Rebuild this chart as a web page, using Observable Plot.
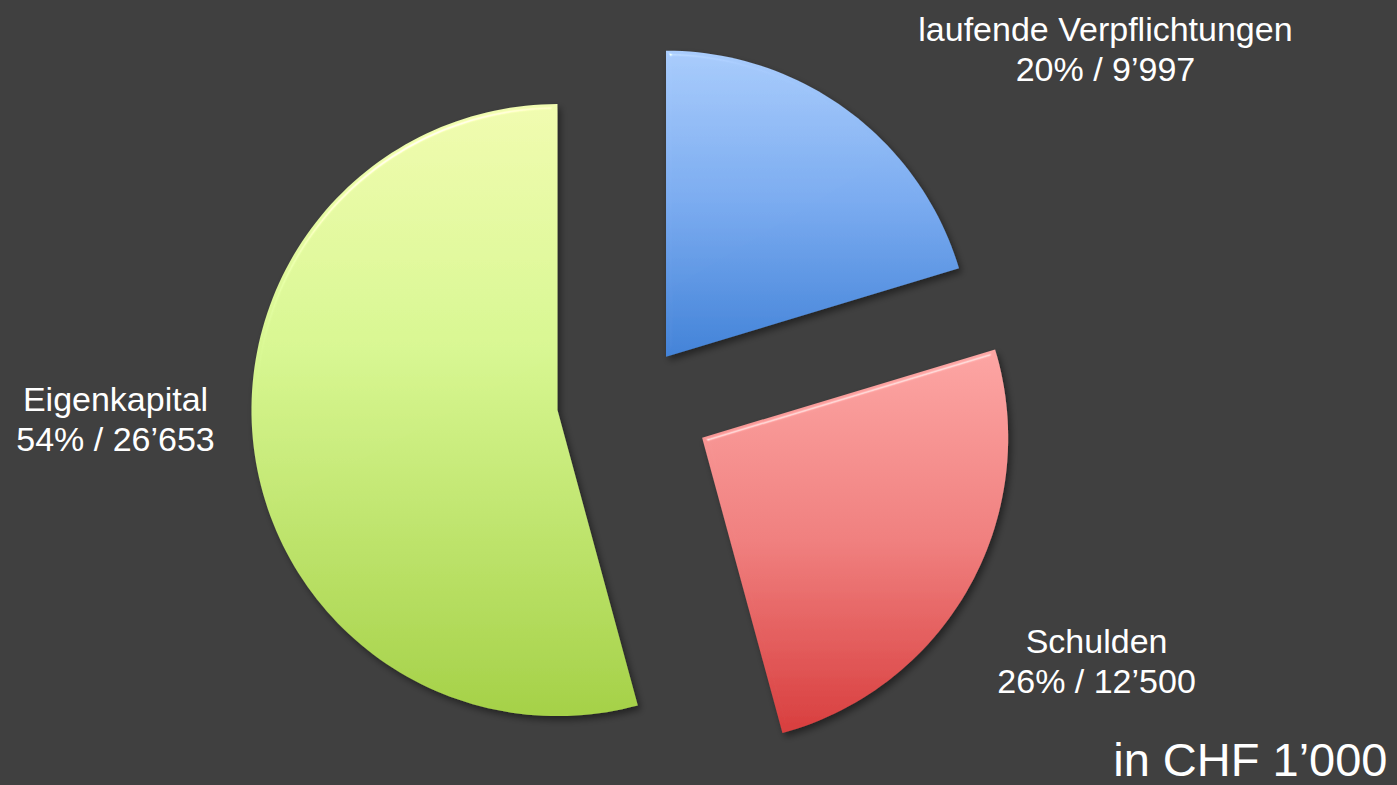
<!DOCTYPE html>
<html><head><meta charset="utf-8">
<script src="https://cdn.jsdelivr.net/npm/d3@7"></script>
<script src="https://cdn.jsdelivr.net/npm/@observablehq/plot@0.6"></script>
<style>html,body{margin:0;padding:0;background:#404040;overflow:hidden}</style>
</head><body><div id="chart"></div>
<script>
// ---- data ----
const categories = ["laufende Verpflichtungen", "Schulden", "Eigenkapital"];
const values = [9997, 12500, 26653];
const percentLabels = ["20%", "26%", "54%"];
const valueLabels = ["9’997", "12’500", "26’653"];
const unitNote = "in CHF 1’000";

// ---- styles / layout (chart units: pie radius = 1) ----
const gradientStops = [
  [["0%", "#a9ccfc"], ["50%", "#7aabf0"], ["100%", "#4383d8"]],
  [["0%", "#fda6a4"], ["50%", "#f0807f"], ["100%", "#d83e3e"]],
  [["0%", "#f1fcb0"], ["40%", "#d8f792"], ["100%", "#a5d148"]]
];
const explode = [0.176, 0.255, 0.252];
const labelAt = [[1.541, 1.041], [1.512, -0.959], [-1.694, -0.168]];

const arcs = d3.pie().sort(null).value(d => d)(values);
const slicePoints = arcs.map((p, i) => {
  const mid = (p.startAngle + p.endAngle) / 2;
  const ox = explode[i] * Math.sin(mid), oy = explode[i] * Math.cos(mid);
  const pts = [{i, x: ox, y: oy}];
  const n = Math.max(2, Math.ceil((p.endAngle - p.startAngle) / (2 * Math.PI) * 240));
  for (let k = 0; k <= n; k++) {
    const a = p.startAngle + (p.endAngle - p.startAngle) * k / n;
    pts.push({i, x: ox + Math.sin(a), y: oy + Math.cos(a)});
  }
  pts.push({i, x: ox, y: oy});
  return pts;
});
const labels = categories.map((c, i) => ({
  text: `${c}\n${percentLabels[i]} / ${valueLabels[i]}`, x: labelAt[i][0], y: labelAt[i][1]
}));

const defsMark = () => {
  const defs = d3.create("svg:defs");
  gradientStops.forEach((s, i) => {
    const g = defs.append("linearGradient").attr("id", `grad-${i}`)
      .attr("x1", 0).attr("y1", 0).attr("x2", 0).attr("y2", 1);
    s.forEach(([o, c]) => g.append("stop").attr("offset", o).attr("stop-color", c));
  });
  const f = defs.append("filter").attr("id", "bevel")
    .attr("x", "-10%").attr("y", "-10%").attr("width", "130%").attr("height", "130%");
  f.append("feGaussianBlur").attr("in", "SourceAlpha").attr("stdDeviation", 2.5).attr("result", "blur");
  const spec = f.append("feSpecularLighting").attr("in", "blur").attr("surfaceScale", 5)
    .attr("specularConstant", 0.8).attr("specularExponent", 40)
    .attr("lighting-color", "#ffffff").attr("result", "spec");
  spec.append("fePointLight").attr("x", -3000).attr("y", -6000).attr("z", 4000);
  f.append("feComposite").attr("in", "spec").attr("in2", "SourceAlpha").attr("operator", "in").attr("result", "specIn");
  f.append("feComposite").attr("in", "SourceGraphic").attr("in2", "specIn").attr("operator", "arithmetic")
    .attr("k1", 0).attr("k2", 1).attr("k3", 0.6).attr("k4", 0).attr("result", "lit");
  f.append("feGaussianBlur").attr("in", "SourceAlpha").attr("stdDeviation", 3.5).attr("result", "sblur");
  f.append("feOffset").attr("in", "sblur").attr("dx", 3).attr("dy", 4).attr("result", "soff");
  f.append("feComponentTransfer").attr("in", "soff").attr("result", "shadow")
    .append("feFuncA").attr("type", "linear").attr("slope", 0.45);
  const m = f.append("feMerge");
  m.append("feMergeNode").attr("in", "shadow");
  m.append("feMergeNode").attr("in", "lit");
  return defs.node();
};

const W = 1397, H = 785, R = 306, CX = 633.4, CY = 399.4;
const chart = Plot.plot({
  width: W, height: H, margin: 0,
  x: {domain: [-CX / R, (W - CX) / R], axis: null},
  y: {domain: [-(H - CY) / R, CY / R], axis: null},
  style: {background: "#404040", fontFamily: "'Liberation Sans', Arial, sans-serif"},
  marks: [
    defsMark,
    ...slicePoints.map((pts, i) => Plot.line(pts, {
      x: "x", y: "y", fill: `url(#grad-${i})`, stroke: "none"
    })),
    Plot.text(labels, {
      x: "x", y: "y", text: "text", fill: "white", fontSize: 34,
      lineAnchor: "bottom", lineHeight: 40 / 34, textAnchor: "middle"
    }),
    Plot.text([unitNote], {
      frameAnchor: "bottom-right", dx: -10, dy: -10, fill: "white", fontSize: 47,
      lineAnchor: "bottom", textAnchor: "end"
    })
  ]
});
d3.select(chart).selectAll('g[aria-label="line"]').attr("filter", "url(#bevel)");
document.getElementById("chart").appendChild(chart);
</script></body></html>
